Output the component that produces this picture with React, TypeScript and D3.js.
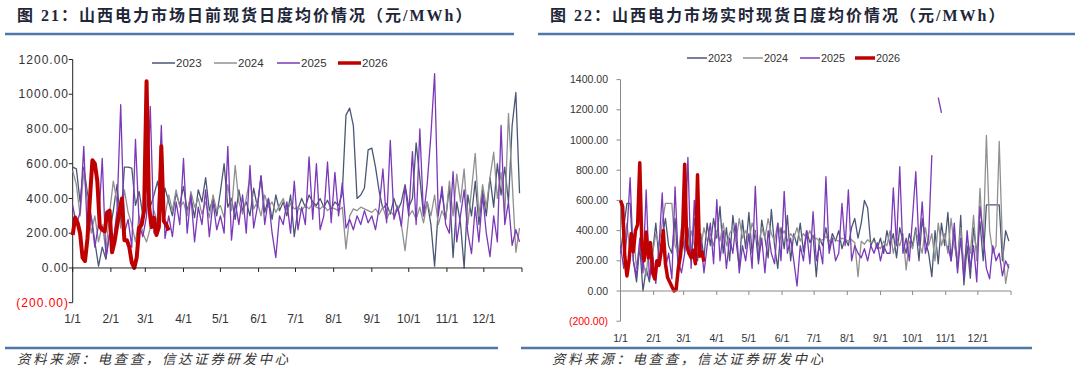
import React from "react";
import * as d3 from "d3";

// month starts (day of year) and labels
const monthDays = [0, 31, 59, 90, 120, 151, 181, 212, 243, 273, 304, 334];
const monthLabels = ["1/1", "2/1", "3/1", "4/1", "5/1", "6/1", "7/1", "8/1", "9/1", "10/1", "11/1", "12/1"];
const years = ["2023", "2024", "2025", "2026"];
const colors = ["#4a5675", "#909090", "#7b38b8", "#c00000"];

// 日前 (day-ahead), sampled every 3 days for 2023-2025, every 2 days for 2026
const da2023 = [580, 570, 380, 580, 430, 300, 150, 10, 120, 50, 200,
  330, 480, 260, 580, 580, 575, 360, 440, 300,
  470, 350, 420, 500, 330, 460, 380, 300, 430, 360,
  470, 330, 410, 290, 450, 380, 520, 330, 400, 300,
  440, 600, 350, 400, 280, 450, 330, 380, 300, 460, 350,
  530, 320, 400, 280, 420, 330, 380, 300, 420, 180,
  340, 400, 350, 420, 380, 360, 400, 350, 390, 340,
  380, 360, 430, 880, 920, 820, 400, 420, 460, 680,
  690, 580, 440, 340, 370, 310, 400, 330, 380, 480,
  350, 400, 720, 520, 300, 380, 250, 10, 340, 430, 280,
  470, 60, 380, 260, 0, 420, 300, 500, 250, 450,
  300, 520, 350, 600, 420, 580, 380, 820, 1010, 430];
const da2024 = [560, 480, 300, 560, 380, 200, 300, 150, 250, 100, 320,
  500, 380, 230, 450, 320, 250, 150, 300, 200,
  150, 230, 330, 260, 380, 300, 420, 330, 450, 350,
  380, 300, 440, 350, 400, 310, 380, 290, 420, 330,
  360, 290, 480, 330, 590, 380, 310, 400, 520, 340, 380,
  300, 420, 350, 380, 320, 360, 400, 330, 370, 340,
  350, 330, 360, 340, 370, 350, 340, 360, 330, 350,
  340, 330, 350, 110, 300, 340, 330, 350, 340, 330,
  320, 340, 310, 350, 280, 330, 300, 360, 250, 100,
  300, 330, 280, 350, 260, 380, 300, 420, 250, 330, 280,
  500, 300, 540, 380, 570, 250, 450, 660, 300, 480,
  350, 520, 666, 400, 550, 300, 890, 500, 90, 230];
const da2025 = [360, 250, 320, 700, 180, 300, 120, 250, 630, 60, 200,
  150, 330, 940, 200, 280, 120, 740, 250, 180,
  300, 930, 200, 280, 820, 170, 300, 180, 380, 250,
  630, 200, 420, 150, 350, 250, 450, 180, 380, 220,
  300, 200, 700, 160, 380, 250, 420, 200, 590, 230, 350,
  530, 250, 400, 200, 60, 300, 250, 380, 200, 500,
  220, 350, 250, 640, 280, 600, 220, 300, 610, 260,
  550, 300, 490, 230, 280, 220, 300, 250, 330, 260,
  300, 220, 350, 570, 260, 735, 280, 350, 240, 470,
  300, 670, 250, 800, 300, 485, 765, 1119, 300, 470, 250,
  200, 555, 150, 300, 450, 200, 83, 350, 150, 420,
  200, 65, 300, 150, 820, 250, 380, 130, 220, 150];
const da2026 = [190, 290, 260, 200, 60, 40, 170, 400, 620, 600, 500, 240, 220, 210, 320, 330, 90, 150, 240, 330,
  400, 160, 160, 120, 30, 0, 60, 230, 250, 330, 1075, 360, 235, 290, 190, 235, 700, 270, 250, 215];

// 实时 (real-time)
const rt2023 = [250, 420, 580, 580, 200, 60, 300, 0, 150, 60, 250,
  450, 200, 350, 480, 300, 250, 480, 150, 400,
  260, 420, 200, 480, 320, 380, 220, 450, 300, 480,
  350, 560, 250, 420, 200, 500, 330, 160, 470, 280,
  520, 250, 400, 180, 470, 350, 220, 540, 300, 150, 420,
  280, 500, 200, 380, 300, 450, 260, 400, 320, 370,
  95, 350, 300, 420, 280, 380, 330, 400, 280, 350,
  300, 420, 480, 350, 450, 600, 550, 300, 350, 280,
  350, 250, 400, 300, 380, 220, 420, 330, 250, 380,
  300, 420, 200, 480, 330, 250, 95, 400, 180, 450, 300,
  520, 200, 380, 150, 500, 40, 300, 85, 420, 250,
  460, 200, 570, 570, 570, 570, 570, 200, 400, 330];
const rt2024 = [580, 300, 450, 250, 380, 150, 320, 200, 100, 330, 250,
  380, 300, 450, 580, 580, 580, 300, 250, 420,
  320, 250, 400, 300, 350, 280, 420, 330, 380, 300,
  400, 330, 450, 300, 380, 420, 330, 480, 350, 400,
  330, 450, 380, 300, 420, 350, 480, 380, 330, 450, 360,
  400, 330, 380, 350, 420, 330, 380, 350, 400, 340,
  350, 330, 340, 360, 330, 350, 340, 330, 350, 340,
  330, 340, 320, 95, 330, 310, 340, 320, 330, 300,
  280, 330, 300, 400, 250, 350, 300, 380, 140, 330,
  280, 400, 320, 250, 420, 300, 380, 200, 450, 300, 380,
  250, 480, 300, 200, 420, 150, 350, 250, 500, 200,
  680, 300, 1030, 400, 250, 300, 990, 300, 50, 180];
const rt2025 = [300, 150, 380, 750, 200, 100, 350, 120, 670, 80, 250,
  50, 300, 650, 150, 250, 80, 690, 200, 120,
  250, 885, 150, 600, 200, 350, 120, 300, 450, 180,
  605, 200, 400, 150, 350, 250, 450, 120, 300, 200,
  380, 150, 693, 200, 350, 120, 400, 250, 180, 450, 200,
  660, 250, 350, 200, 33, 300, 200, 400, 180, 525,
  200, 300, 180, 757, 250, 350, 200, 250, 580, 300,
  670, 200, 300, 250, 220, 280, 200, 300, 250, 320,
  200, 300, 250, 250, 683, 300, 823, 250, 350, 200,
  490, 790, 300, 590, 250, 350, 900, null, 1280, 1180, null,
  300, 200, 450, 120, 350, 80, 400, 150, 300, 60,
  560, 370, 150, 80, 300, 200, 250, 100, 200, 150];
const rt2026 = [600, 560, 230, 100, 200, 380, 260, 400, 440, 850, 300, 200, 390, 220, 320, 120, 80, 200, 170, 260,
  400, 180, 90, 60, 30, 0, 10, 150, 230, 380, 840, 300, 250, 220, 270, 180, 770, 230, 260, 195];

const daTicks = [-200, 0, 200, 400, 600, 800, 1000, 1200];
const rtTicks = [-200, 0, 200, 400, 600, 800, 1000, 1200, 1400];

const sans = "'Liberation Sans', Arial, sans-serif";
const cjk = "'Liberation Serif', 'Noto Sans CJK SC', serif";

function fmt(v) {
  return v < 0 ? `(${Math.abs(v).toFixed(2)})` : v.toFixed(2);
}

function Panel(props) {
  const { g, series, ticks, title, source } = props;
  const x = d3.scaleLinear().domain([0, 365]).range([g.x0, g.x1]);
  const y = d3.scaleLinear().domain([ticks[0], ticks[ticks.length - 1]]).range([g.yBottom, g.yTop]);
  const steps = [3, 3, 3, 2];

  return (
    <g>
      <text x={g.titleX} y={21} fontFamily={cjk} fontWeight="bold" fontSize={16} letterSpacing={2} fill="#1e2638">{title}</text>
      <line x1={g.lineT[0]} x2={g.lineT[1]} y1={34} y2={34} stroke="#4f78a8" strokeWidth={2.5} />

      {/* y axis */}
      <line x1={g.x0} x2={g.x0} y1={y(ticks[0])} y2={y(ticks[ticks.length - 1])} stroke={g.axisColor} strokeWidth={1} />
      {ticks.map(t => (
        <g key={t}>
          <line x1={g.x0 - 4} x2={g.x0} y1={y(t)} y2={y(t)} stroke={g.axisColor} />
          <text x={g.labelX} y={y(t)} dy="0.35em" textAnchor="end" fontFamily={sans} fontSize={g.yFont}
            letterSpacing={g.ySpacing} fill={t < 0 ? "#ff0000" : "#333"}>{fmt(t)}</text>
        </g>
      ))}

      {/* lines */}
      {series.map((s, k) => {
        const line = d3.line()
          .defined(d => d != null)
          .x((d, i) => x(i * steps[k]))
          .y(d => y(d));
        return (
          <path key={k} d={line(s)} fill="none" stroke={colors[k]}
            strokeWidth={k === 3 ? g.redWidth : 1.3} strokeLinejoin="round" />
        );
      })}

      {/* x axis */}
      <line x1={g.x0} x2={g.x1} y1={y(0)} y2={y(0)} stroke={g.axisColor} strokeWidth={1} />
      {monthDays.concat([365]).map(d => (
        <line key={d} x1={x(d)} x2={x(d)} y1={y(0)} y2={y(0) + 4} stroke={g.axisColor} />
      ))}
      {monthDays.map((d, i) => (
        <text key={d} x={x(d)} y={g.xLabelY} textAnchor="middle" fontFamily={sans} fontSize={g.xFont} fill="#333">{monthLabels[i]}</text>
      ))}

      {/* legend */}
      {years.map((yr, k) => (
        <g key={yr}>
          <line x1={g.legX[k]} x2={g.legX[k] + g.legLen} y1={g.legY} y2={g.legY} stroke={colors[k]} strokeWidth={k === 3 ? 3.5 : 1.5} />
          <text x={g.legX[k] + g.legLen + 1} y={g.legY} dy="0.36em" fontFamily={sans} fontSize={g.legFont} fill="#333">{yr}</text>
        </g>
      ))}

      <line x1={g.lineB[0]} x2={g.lineB[1]} y1={348} y2={348} stroke="#4f78a8" strokeWidth={2.5} />
      <text x={g.srcX} y={364} fontFamily="'Noto Sans CJK SC', sans-serif" fontStyle="italic" fontSize={13.5}
        letterSpacing={2.6} fill="#333">{source}</text>
    </g>
  );
}

const leftGeo = {
  x0: 72.7, x1: 522, yBottom: 302.7, yTop: 59.5, axisColor: "#222", labelX: 69, yFont: 12, ySpacing: 1,
  xLabelY: 323, xFont: 12, legX: [152, 214, 277, 338], legLen: 23, legY: 63, legFont: 11.5,
  redWidth: 4, titleX: 17, lineT: [5, 514], lineB: [5, 498], srcX: 17
};
const rightGeo = {
  x0: 620.5, x1: 1011, yBottom: 321.2, yTop: 79.6, axisColor: "#8a8a8a", labelX: 608, yFont: 10.5, ySpacing: 0,
  xLabelY: 341.5, xFont: 10.6, legX: [687, 743, 800, 855], legLen: 20, legY: 58, legFont: 10.8,
  redWidth: 3.5, titleX: 550, lineT: [538, 1075], lineB: [521, 1032], srcX: 552
};

export default function App() {
  return (
    <svg width={1080} height={368} style={{ position: "absolute", left: 0, top: 0, background: "#fff" }}>
      <Panel g={leftGeo} series={[da2023, da2024, da2025, da2026]} ticks={daTicks}
        title="图 21：山西电力市场日前现货日度均价情况（元/MWh）" source="资料来源：电查查，信达证券研发中心" />
      <Panel g={rightGeo} series={[rt2023, rt2024, rt2025, rt2026]} ticks={rtTicks}
        title="图 22：山西电力市场实时现货日度均价情况（元/MWh）" source="资料来源：电查查，信达证券研发中心" />
    </svg>
  );
}
